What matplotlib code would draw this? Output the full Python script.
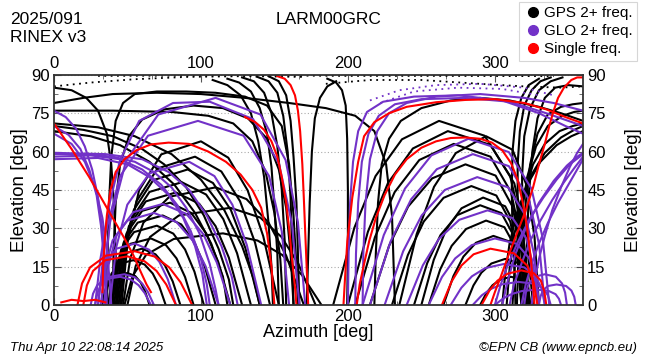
import matplotlib
matplotlib.use("Agg")
import matplotlib.pyplot as plt
from matplotlib.lines import Line2D
from matplotlib.ticker import MultipleLocator

plt.rcParams['font.family'] = ['Liberation Sans', 'DejaVu Sans']

station = "LARM00GRC"
day_label = "2025/091"
rinex_label = "RINEX v3"
created = "Thu Apr 10 22:08:14 2025"
credit = "\u00a9EPN CB (www.epncb.eu)"
legend_labels = ["GPS 2+ freq.", "GLO 2+ freq.", "Single freq."]
x_ticks = [0, 100, 200, 300]
y_ticks = [0, 15, 30, 45, 60, 75, 90]

# satellite tracks, (azimuth, elevation) in degrees
gps_tracks = [
    # rising in the north-east
    [(33, 0), (34.4, 5), (36.7, 8.8), (41.5, 11.5), (50, 12.5), (55.3, 11.3), (59, 8.8), (62, 5.3), (65, 0)],
    [(35, 0), (36.5, 7), (39.2, 12.3), (44.5, 16.1), (54, 17.5), (61.7, 15.8), (67.2, 12.3), (71.6, 7.4), (76, 0)],
    [(37, 0), (38.8, 8.8), (42, 15.4), (48.5, 20.2), (60, 22), (69.1, 19.8), (75.6, 15.4), (80.8, 9.2), (86, 0)],
    [(38, 0), (40.2, 10.4), (44.2, 18.2), (52, 23.9), (66, 26), (76.2, 23.4), (83.4, 18.2), (89.2, 10.9), (95, 0)],
    [(39, 0), (41.5, 12.4), (45.8, 21.7), (54.5, 28.5), (70, 31), (81.2, 27.9), (89.2, 21.7), (95.6, 13), (102, 0)],
    [(40, 0), (42.7, 14), (47.5, 24.5), (57, 32.2), (74, 35), (86.6, 31.5), (95.6, 24.5), (102.8, 14.7), (110, 0)],
    [(41, 0), (44, 16), (49.4, 28), (60, 36.8), (79, 40), (93.4, 36), (103.6, 28), (111.8, 16.8), (120, 0)],
    [(42, 0), (45.3, 17.6), (51, 30.8), (62.5, 40.5), (83, 44), (98.8, 39.6), (110, 30.8), (119, 18.5), (128, 0)],
    [(43, 0), (46.5, 19.2), (52.7, 33.6), (65, 44.2), (87, 48), (103.5, 43.2), (115.2, 33.6), (124.6, 20.2), (134, 0)],
    [(44, 0), (47.8, 21.2), (54.3, 37.1), (67.5, 48.8), (91, 53), (108.2, 47.7), (120.4, 37.1), (130.2, 22.3), (140, 0)],
    [(45, 0), (49, 23.2), (56.2, 40.6), (70.5, 53.4), (96, 58), (113.9, 52.2), (126.6, 40.6), (136.8, 24.4), (147, 0)],
    [(46, 0), (50.3, 25.6), (57.9, 44.8), (73, 58.9), (100, 64), (118.6, 57.6), (131.8, 44.8), (142.4, 26.9), (153, 0)],
    [(47, 0), (52, 18.4), (60.9, 32.2), (78.5, 42.3), (110, 46), (131, 41.4), (146, 32.2), (158, 19.3), (170, 0)],
    [(50, 0), (55.6, 15.2), (65.4, 26.6), (85, 35), (120, 38), (140.3, 34.2), (154.8, 26.6), (166.4, 16), (178, 0)],
    [(48, 0), (53.4, 11.2), (62.7, 19.6), (81.5, 25.8), (115, 28), (138.5, 25.2), (155.2, 19.6), (168.6, 11.8), (182, 0)],
    # coming in over the left edge
    [(0, 70), (20, 68.5), (40, 66), (60, 61), (75, 55), (90, 46), (102, 35), (112, 22), (119, 10), (122, 0)],
    [(0, 68), (25, 66), (45, 62.5), (65, 56), (82, 47), (96, 36), (107, 24), (115, 11), (118, 0)],
    [(0, 71), (30, 69.5), (55, 66), (80, 59), (100, 49), (116, 37), (128, 23), (136, 10), (140, 0)],
    [(0, 76), (40, 76), (80, 75.5), (105, 74), (122, 71), (135, 64), (144, 52), (150, 36), (154, 18), (156, 0)],
    [(0, 79), (20, 81), (40, 82.5), (70, 83), (100, 82.5), (130, 81), (160, 79), (185, 77), (205, 74),
     (218, 68), (226, 55), (230, 35), (232, 0)],
    [(0, 85), (12, 84), (22, 81), (30, 76), (36, 67), (39, 55), (41, 38), (42, 20), (43, 0)],
    [(36, 0), (36.5, 20), (37.5, 40), (39, 58), (42, 72), (47, 79), (55, 82.5), (70, 83.5), (90, 83.5), (110, 83),
     (130, 81.5), (145, 78), (155, 70), (160, 55), (163, 35), (165, 15), (166, 0)],
    [(40, 0), (40.5, 20), (42, 40), (45, 55), (51, 66), (60, 72.5), (75, 76.5), (95, 78), (115, 77), (132, 73),
     (145, 65), (153, 53), (158, 38), (161, 20), (163, 0)],
    # steep ones from near the zenith
    [(108, 88), (118, 86), (127, 82), (134, 75), (139, 64), (143, 50), (146, 32), (148, 15), (149, 0)],
    [(118, 88.5), (126, 87), (134, 83.5), (140, 77), (145, 67), (148, 54), (150, 38), (152, 20), (153, 0)],
    [(128, 89), (136, 87.5), (143, 83), (148, 75), (152, 62), (155, 45), (157, 25), (158, 0)],
    [(138, 89.3), (146, 87.5), (152, 83), (156, 74), (159, 60), (161, 42), (162, 22), (163, 0)],
    [(146, 89.5), (153, 87.5), (158, 82), (161, 72), (163, 58), (165, 40), (166, 20), (167, 0)],
    [(172, 0), (173, 20), (174, 40), (175.5, 60), (177.5, 73), (181, 81), (186, 85.5), (192, 87.5)],
    [(186, 88.5), (192, 87), (196, 84), (198.5, 78), (199.5, 65), (200, 45), (200, 20), (199.5, 0)],
    # setting in the north-west
    [(190, 0), (204.4, 30.2), (218.8, 50.4), (236.8, 64.8), (262, 72), (293, 66.2), (310.4, 50.4), (319, 28.8), (324, 0)],
    [(200, 0), (213.6, 28.6), (227.2, 47.6), (244.2, 61.2), (268, 68), (297, 62.6), (313.2, 47.6), (321.4, 27.2), (326, 0)],
    [(205, 0), (218.4, 26.5), (231.8, 44.1), (248.6, 56.7), (272, 63), (297, 58), (311, 44.1), (318, 25.2), (322, 0)],
    [(215, 0), (228, 23.1), (241, 38.5), (257.3, 49.5), (280, 55), (300.5, 50.6), (312, 38.5), (317.7, 22), (321, 0)],
    [(230, 0), (240.8, 19.5), (251.6, 32.6), (265.1, 41.9), (284, 46.5), (301, 42.8), (310.5, 32.6), (315.3, 18.6), (318, 0)],
    [(250, 0), (258.4, 17.6), (266.8, 29.4), (277.3, 37.8), (292, 42), (307, 38.6), (315.4, 29.4), (319.6, 16.8), (322, 0)],
    [(245, 0), (254, 16.4), (263, 27.3), (274.3, 35.1), (290, 39), (304.5, 35.9), (312.6, 27.3), (316.7, 15.6), (319, 0)],
    [(255, 0), (262.8, 13.9), (270.6, 23.1), (280.4, 29.7), (294, 33), (306.5, 30.4), (313.5, 23.1), (317, 13.2), (319, 0)],
    [(265, 0), (271.8, 11.3), (278.6, 18.9), (287.1, 24.3), (299, 27), (310, 24.8), (316.2, 18.9), (319.2, 10.8), (321, 0)],
    [(280, 0), (285.4, 7.6), (290.8, 12.6), (297.6, 16.2), (307, 18), (315, 16.6), (319.5, 12.6), (321.7, 7.2), (323, 0)],
    [(290, 0), (294.2, 4.6), (298.4, 7.7), (303.7, 9.9), (311, 11), (317.5, 10.1), (321.1, 7.7), (323, 4.4), (324, 0)],
    [(235, 0), (246.8, 27.7), (258.6, 46.2), (273.4, 59.4), (294, 66), (312, 60.7), (322, 46.2), (327, 26.4), (330, 0)],
    [(218, 0), (219, 20), (220.5, 40), (223, 55), (228, 65), (236, 72), (250, 77), (270, 80), (290, 81), (310, 80),
     (330, 77.5), (345, 75), (360, 72)],
    [(338, 89), (331, 87.5), (325, 84), (320, 78), (317, 68), (315.5, 55), (315.5, 38), (316.5, 20), (318, 0)],
    [(346, 89), (338, 87.5), (330, 84), (324, 77), (320, 66), (318.5, 50), (319, 30), (320.5, 12), (321, 0)],
    [(330, 88.5), (323, 86), (318, 81), (314, 72), (312, 60), (311.5, 45), (312, 28), (313.5, 12), (314, 0)],
    # leaving over the right edge
    [(305, 0), (307, 12), (310, 24), (315, 36), (322, 47), (331, 56), (342, 62.5), (352, 66), (360, 68)],
    [(308, 0), (310, 14), (313, 27), (318, 40), (325, 51), (334, 59.5), (345, 65.5), (354, 68.5), (360, 70)],
    [(312, 0), (313.5, 15), (316, 30), (320, 44), (326, 55), (334, 63), (344, 68), (353, 70), (360, 71)],
    [(315, 0), (316, 18), (318, 35), (322, 50), (328, 62), (336, 70), (346, 74), (354, 75.5), (360, 76)],
    [(318, 0), (319, 20), (321, 40), (324, 55), (329, 67), (336, 74.5), (345, 77.5), (353, 78.5), (360, 79)],
    [(321, 0), (321.5, 20), (323, 42), (325.5, 60), (329, 73), (334, 81), (341, 85), (350, 86), (360, 85.5)],
]
gps_dotted = [
    [(0, 85.5), (25, 87), (55, 88.3), (90, 89.2), (130, 89.5), (170, 89.2)],
    [(185, 86.5), (215, 88), (250, 88), (290, 86.5), (320, 85.5), (345, 85), (360, 85.5)],
    [(30, 89.6), (80, 89.7), (130, 89.8), (200, 89.6), (260, 89.6), (340, 89.5)],
]
glo_tracks = [
    [(25, 0), (26.6, 4.4), (29.4, 7.7), (35, 10.1), (45, 11), (52.4, 9.9), (57.6, 7.7), (61.8, 4.6), (66, 0)],
    [(28, 0), (29.6, 4.8), (32.4, 8.4), (38, 11), (48, 12), (55, 10.8), (60, 8.4), (64, 5), (68, 0)],
    [(30, 0), (32, 9.6), (35.5, 16.8), (42.5, 22), (55, 24), (64.8, 21.6), (71.8, 16.8), (77.4, 10.1), (83, 0)],
    [(32, 0), (34.9, 14.4), (39.9, 25.2), (50, 33), (68, 36), (83.4, 32.4), (94.4, 25.2), (103.2, 15.1), (112, 0)],
    [(34, 0), (37.2, 15.8), (42.8, 27.6), (54, 36.3), (74, 39.5), (90.1, 35.6), (101.6, 27.7), (110.8, 16.6), (120, 0)],
    [(38, 0), (42.3, 22.4), (49.9, 39.2), (65, 51.5), (92, 56), (109.2, 50.4), (121.4, 39.2), (131.2, 23.5), (141, 0)],
    [(30, 0), (35.4, 28.8), (45, 50.4), (64, 66.2), (98, 72), (129, 66.2), (146.4, 50.4), (155, 28.8), (160, 0)],
    [(28, 0), (31.5, 17.6), (38, 40), (45, 56.7), (58, 72), (81, 79), (106, 79.5), (135.5, 72.7), (153.1, 55.3),
     (162, 31.6), (167, 0)],
    [(32, 0), (38.2, 32.4), (49.2, 56.7), (71, 74.5), (110, 81), (140.5, 74.5), (157.6, 56.7), (166, 32.4), (171, 0)],
    [(0, 59), (20, 59), (40, 58), (55, 56), (68, 52), (80, 46), (90, 38), (99, 28), (106, 16), (110, 6), (112, 0)],
    [(0, 58), (25, 58.5), (45, 57), (60, 53), (73, 47), (84, 39), (93, 29), (100, 18), (104, 8), (106, 0)],
    [(0, 57), (30, 57.5), (50, 55), (65, 50), (78, 43), (88, 34), (96, 23), (101, 12), (104, 0)],
    [(0, 59.5), (35, 59), (60, 57), (78, 52), (92, 45), (104, 35), (114, 23), (121, 11), (125, 0)],
    [(0, 76), (8, 73.5), (15, 69), (21, 62), (26, 53), (30, 42), (33, 29), (35, 15), (36, 0)],
    [(0, 70), (10, 66.5), (18, 61), (24, 53), (29, 43), (32, 31), (34, 18), (35.5, 0)],
    [(0, 67), (12, 63), (21, 56), (28, 46), (33, 34), (36, 21), (38, 9), (39, 0)],
    [(210, 0), (210.5, 20), (212, 40), (215, 57), (220, 68), (228, 75), (240, 79), (260, 81.5), (290, 82.5),
     (320, 81), (340, 79), (360, 76)],
    [(205, 0), (205.5, 20), (207, 40), (209.5, 56), (214, 67), (221, 74), (232, 78.5), (250, 80.5), (280, 81),
     (310, 79.5), (335, 75), (360, 70)],
    [(200, 0), (200.5, 20), (201.5, 40), (203.5, 56), (207, 68), (213, 75.5), (224, 79.5), (245, 81.5), (275, 82),
     (305, 80), (330, 75), (348, 70), (360, 67)],
    [(225, 0), (237.6, 21), (250.2, 35), (266, 45), (288, 50), (309, 46), (320.8, 35), (326.6, 20), (330, 0)],
    [(215, 0), (229, 24.8), (243, 41.3), (260.5, 53.1), (285, 59), (309.5, 54.3), (323.2, 41.3), (330.1, 23.6), (334, 0)],
    [(210, 0), (224.4, 27.3), (238.8, 45.5), (256.8, 58.5), (282, 65), (309.5, 59.8), (324.9, 45.5), (332.6, 26), (337, 0)],
    [(240, 0), (251, 15.5), (262, 25.9), (275.8, 33.3), (295, 37), (312, 34), (321.5, 25.9), (326.3, 14.8), (329, 0)],
    [(255, 0), (264, 10.9), (273, 18.2), (284.3, 23.4), (300, 26), (315, 23.9), (323.4, 18.2), (327.6, 10.4), (330, 0)],
    [(270, 0), (277.2, 6.7), (284.4, 11.2), (293.4, 14.4), (306, 16), (320, 14.7), (327.8, 11.2), (331.8, 6.4), (334, 0)],
    [(285, 0), (291.2, 3.8), (297.4, 6.3), (305.2, 8.1), (316, 9), (327, 8.3), (333.2, 6.3), (336.2, 3.6), (338, 0)],
    [(300, 0), (305.6, 2.5), (311.2, 4.2), (318.2, 5.4), (328, 6), (336.5, 5.5), (341.3, 4.2), (343.6, 2.4), (345, 0)],
    [(320, 0), (321.1, 4.8), (323.1, 8.4), (327, 11), (334, 12), (341.5, 11), (345.7, 8.4), (347.8, 4.8), (349, 0)],
    [(330, 0), (331, 3.2), (332.6, 5.6), (336, 7.4), (342, 8), (348.5, 7.4), (352.1, 5.6), (354, 3.2), (355, 0)],
    [(300, 0), (304, 8), (309, 16), (316, 25), (324, 34), (333, 42), (342, 49), (351, 55), (360, 59)],
    [(310, 0), (313, 8), (318, 16), (324, 25), (331, 33), (339, 41), (347, 48), (354, 53.5), (360, 58)],
    [(318, 0), (321, 8), (325, 16), (330, 24), (336, 32), (343, 40), (350, 47), (356, 53), (360, 57)],
    [(305, 0), (309, 10), (314, 20), (321, 30), (330, 40), (340, 48.5), (349, 54.5), (356, 58), (360, 59.5)],
    [(325, 0), (327, 9), (330, 18), (334, 27), (339, 37), (345, 46), (351, 54), (356, 59.5), (360, 63)],
]
glo_dotted = [
    [(215, 80), (235, 84), (260, 86), (290, 86.5), (320, 85), (340, 82)],
    [(222, 79), (245, 83.5), (275, 85), (305, 84.5), (330, 82)],
]
single_tracks = [
    [(0, 71), (6, 66), (12, 61), (18, 55.5), (24, 50), (30, 44), (36, 38), (42, 32), (48, 26), (54, 19.5),
     (59, 13), (63, 8), (66, 5)],
    [(197, 0), (198, 10), (199.6, 25), (203, 42), (207, 56), (211, 66), (218, 71.5), (228, 75), (240, 77.5),
     (260, 79.3), (280, 80.2), (300, 80.5), (320, 79), (335, 76.5), (348, 73.5), (360, 71)],
    [(33, 5), (33.5, 15), (34.5, 25), (36, 35), (38.5, 45), (42, 52), (48, 57), (56, 60.5), (66, 62.8), (78, 63.5),
     (92, 63), (105, 60), (117, 56), (127, 51), (135, 45), (141, 38), (145, 28), (148, 15), (150, 0)],
    [(130, 73.5), (137, 71.5), (143, 68.5), (148, 64), (152, 58), (155, 50), (158, 40), (160, 30), (162, 18),
     (164, 7), (165, 0)],
    [(152, 89.5), (157, 88.5), (161, 86), (164, 82), (166, 76), (167.5, 68), (169, 55), (170, 42), (171, 28),
     (172, 14), (173, 0)],
    [(16, 0), (19.1, 8.4), (24.6, 14.7), (35.5, 19.3), (55, 21), (68.7, 18.9), (78.4, 14.7), (86.2, 8.8), (94, 0)],
    [(20, 0), (22.4, 7.6), (26.6, 13.3), (35, 17.5), (50, 19), (61.6, 17.1), (69.8, 13.3), (76.4, 8), (83, 0)],
    [(5, 1), (12, 2), (20, 1.5), (28, 2), (35, 1)],
    [(206, 0), (208, 8), (211, 16), (214.5, 25), (219, 34), (225, 43), (232, 51), (240, 57), (250, 61.5),
     (260, 64), (270, 65.3), (280, 65.5), (290, 65), (298, 63.5), (305, 60.5), (311, 55.5), (315.5, 49),
     (319, 40), (322, 30), (324.5, 18), (326, 8), (327, 0)],
    [(264, 0), (270.6, 9.2), (277.2, 15.4), (285.5, 19.8), (297, 22), (313, 20.2), (322, 15.4), (326.4, 8.8), (329, 0)],
    [(291, 0), (296.4, 5.7), (301.8, 9.5), (308.6, 12.2), (318, 13.5), (326.5, 12.4), (331.3, 9.5), (333.6, 5.4), (335, 0)],
    [(297, 0), (300, 5), (304, 11), (309, 19), (315, 28), (321, 37), (326, 46), (330, 55), (334, 63), (337, 70),
     (340, 76), (343, 81), (347, 85), (352, 88), (356, 89), (360, 89)],
]

gps_color = 'black'
glo_color = '#7232c8'
single_color = '#ff0000'

fig = plt.figure(figsize=(6.5, 3.6), dpi=100)
ax = fig.add_axes([0.083, 0.153, 0.814, 0.639])

def draw(tracks, color, dotted=False):
    for t in tracks:
        az = [p[0] for p in t]
        el = [p[1] for p in t]
        if dotted:
            ax.plot(az, el, color=color, lw=1.3, ls=(0, (1, 2.5)))
        else:
            ax.plot(az, el, color=color, lw=1.5, solid_joinstyle='round')

draw(gps_dotted, gps_color, dotted=True)
draw(gps_tracks, gps_color)
draw(glo_dotted, glo_color, dotted=True)
draw(glo_tracks, glo_color)
draw(single_tracks, single_color)

ax.set_xlim(0, 360)
ax.set_ylim(0, 90)
ax.set_xticks(x_ticks)
ax.set_yticks(y_ticks)
ax.xaxis.set_minor_locator(MultipleLocator(100 / 3))
ax.yaxis.set_minor_locator(MultipleLocator(7.5))
ax.tick_params(which='both', direction='in', top=True, right=True,
               labeltop=True, labelright=True, labelsize=12, color='#555555')
ax.tick_params(which='major', length=5, pad=3)
ax.tick_params(which='minor', length=3)
ax.grid(axis='y', color='#aaaaaa', ls=(0, (1, 2)), lw=0.8)
for s in ax.spines.values():
    s.set_linewidth(1.3)
    s.set_color('#333333')

ax.set_xlabel("Azimuth [deg]", fontsize=13, labelpad=0)
ax.set_ylabel("Elevation [deg]", fontsize=13.5, labelpad=2)
ax2 = ax.secondary_yaxis('right')
ax2.set_yticks([])
ax2.spines['right'].set_visible(False)
ax2.set_ylabel("Elevation [deg]", fontsize=13.5, labelpad=30)

fig.text(0.015, 0.945, day_label, fontsize=12.5, va='center')
fig.text(0.015, 0.895, rinex_label, fontsize=12.5, va='center')
fig.text(0.506, 0.945, station, fontsize=12.5, ha='center', va='center')
fig.text(0.015, 0.033, created, fontsize=9.5, style='italic', va='center')
fig.text(0.98, 0.033, credit, fontsize=9.5, style='italic', ha='right', va='center')

handles = [Line2D([], [], ls='none', marker='o', ms=7, color=c)
           for c in (gps_color, glo_color, single_color)]
leg = fig.legend(handles, legend_labels, loc='upper right', bbox_to_anchor=(0.98, 0.995),
                 fontsize=11, frameon=True, fancybox=False, handletextpad=0.1,
                 handlelength=1.2, borderpad=0.3, labelspacing=0.25, borderaxespad=0)
leg.get_frame().set_edgecolor('#cccccc')
leg.get_frame().set_linewidth(0.8)

fig.savefig("out.png", dpi=100)
